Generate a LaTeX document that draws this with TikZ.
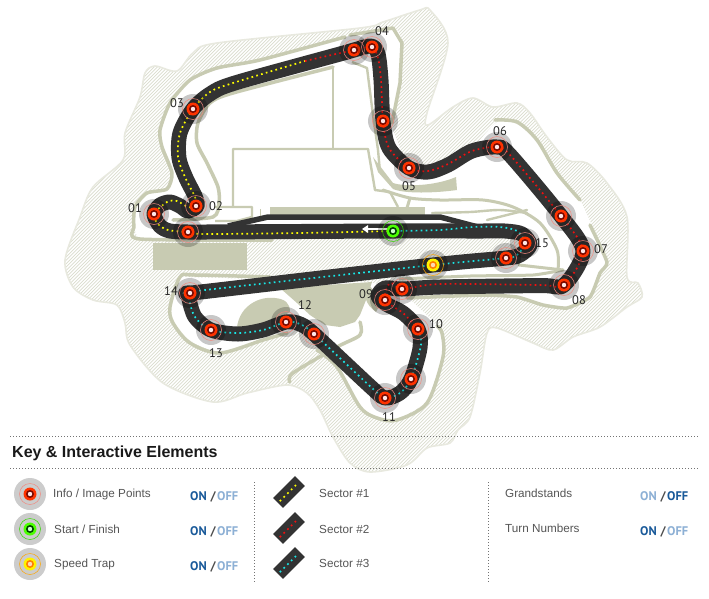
\documentclass[tikz,border=0pt]{standalone}
\usepackage{fontspec}
\setmainfont{Liberation Sans}
\newfontfamily\din{PT Sans}
\usetikzlibrary{arrows.meta}
\definecolor{olive}{HTML}{C8CBB2}
\definecolor{hatchc}{HTML}{DADCCD}
\definecolor{edgec}{HTML}{E8E9DF}
\definecolor{trk}{HTML}{333333}
\definecolor{sy}{HTML}{FFFF00}
\definecolor{sr}{HTML}{F01010}
\definecolor{sc}{HTML}{19E6E6}
\definecolor{bluedark}{HTML}{1A5A9A}
\definecolor{bluelight}{HTML}{8DB0D5}
\definecolor{txt}{HTML}{555555}
\definecolor{ring}{HTML}{F08A80}
\definecolor{band}{HTML}{FF3300}
\definecolor{inner}{HTML}{7A0A00}
\tikzset{
 oline/.style={draw=olive,line width=3.5pt,line join=round,line cap=round},
 othin/.style={draw=olive,line width=2.4pt,line join=round},
 ofill/.style={fill=olive,draw=none},
 secdots/.style={line width=1.7pt,dash pattern=on 1.7pt off 3.3pt},
 halo/.style={circle,fill=black,fill opacity=.22,draw=none,minimum size=#1,inner sep=0pt},
 disc/.style={circle,fill=#1,draw=none,inner sep=0pt},
 turn/.style={font=\din\fontsize{12.5}{14}\selectfont,text=black!85,inner sep=0pt},
 lab/.style={font=\fontsize{11.7}{14}\selectfont,text=txt,anchor=west,inner sep=0pt},
 tog/.style={font=\din\bfseries\fontsize{12.5}{14}\selectfont,inner sep=0pt,anchor=west},
 rule/.style={draw=black!55,line width=.7pt,dash pattern=on 1pt off 2pt},
}
\newcommand\mk[7]{%
 \node[halo=#3] (#1) at (#2) {};
 \node[circle,draw=#4,line width=.5pt,minimum size=21pt,inner sep=0pt] at (#2) {};
 \node[disc=#5,minimum size=13pt] at (#2) {};
 \node[disc=#6,minimum size=8pt] at (#2) {};
 \node[disc=#7,minimum size=4.4pt] at (#2) {};
}
\newcommand\ipt[2]{\mk{#1}{#2}{30pt}{ring}{band}{inner}{white!90!red}}
\newcommand\togg[5]{%
 \node[tog,text=#4] at (#2,#1) {ON};
 \node[tog,text=black!70] at (#2+20.5,#1) {/};
 \node[tog,text=#5] at (#2+27,#1) {OFF};
}
\begin{document}
\begin{tikzpicture}[x=1pt,y=-1pt]
\path[use as bounding box,fill=white] (0,0) rectangle (709,598);
\begin{scope}
\clip plot[smooth cycle,tension=.5] coordinates {(360,28) (217,43) (193,53) (177,71) (155,66) (145,73) (140,97) (125,133) (123,160) (93,187) (80,217) (65,260) (73,287) (93,300) (117,305) (125,323) (130,345) (163,383) (213,402) (247,393) (287,385) (307,393) (320,410) (333,437) (350,463) (370,472) (407,465) (427,448) (450,443) (458,430) (470,417) (480,373) (487,333) (497,328) (533,343) (553,350) (573,337) (600,327) (627,307) (642,297) (638,283) (627,277) (627,217) (607,183) (587,163) (567,160) (547,137) (530,113) (517,103) (493,107) (473,98) (453,107) (428,125) (427,113) (448,43) (430,10) (420,10) (383,22)};
\foreach \k in {-600,-596.6,...,720} {\draw[hatchc,line width=.7pt] (\k,600) -- (\k+600,0);}
\end{scope}
\draw[edgec,line width=1.6pt] plot[smooth cycle,tension=.5] coordinates {(360,28) (217,43) (193,53) (177,71) (155,66) (145,73) (140,97) (125,133) (123,160) (93,187) (80,217) (65,260) (73,287) (93,300) (117,305) (125,323) (130,345) (163,383) (213,402) (247,393) (287,385) (307,393) (320,410) (333,437) (350,463) (370,472) (407,465) (427,448) (450,443) (458,430) (470,417) (480,373) (487,333) (497,328) (533,343) (553,350) (573,337) (600,327) (627,307) (642,297) (638,283) (627,277) (627,217) (607,183) (587,163) (567,160) (547,137) (530,113) (517,103) (493,107) (473,98) (453,107) (428,125) (427,113) (448,43) (430,10) (420,10) (383,22)};
% white infield
\fill[white] plot[smooth,tension=.4] coordinates {(138,238) (134,227) (135,207) (147,193) (167,188) (172,173) (162,147) (160,130) (170,103) (190,80) (217,68) (260,60) (345,37) (393,28) (402,43) (400,83) (392,123) (397,140) (408,165) (440,168) (470,150) (497,122) (517,122) (537,140) (557,173) (580,200) (607,262) (600,273) (590,297) (567,308) (543,305) (517,297) (483,295) (410,298) (400,284) (433,265) (506,258) (528,245) (505,231) (393,231) (215,238) (138,238)};
\fill[white] (180,277) -- (170,307) .. controls (170,330) and (190,345) .. (220,353) -- (263,340) -- (295,328) -- (325,350) -- (337,367) -- (360,407) -- (377,418) -- (397,420) -- (427,403) -- (443,357) -- (442,333) -- (430,318) -- (400,290) -- (370,282) -- (180,277) -- cycle;
% filled buildings
\fill[ofill] (153,243) rectangle (247,270);
\fill[ofill] (270,207) rectangle (425,215);
\fill[ofill] (280,288) -- (372,282) -- (366,300) -- (360,315) -- (355,322) -- (340,327) -- (325,325) -- (310,315) -- (297,303) -- cycle;
\fill[ofill] (237,327) .. controls (240,305) and (260,296) .. (275,298) .. controls (285,299) and (290,303) .. (290,312) -- (265,326) -- cycle;
\fill[ofill] (373,157) -- (393,183) .. controls (405,187) and (435,186) .. (456,177) -- (457,190) .. controls (435,193) and (405,194) .. (393,189) -- (378,172) -- cycle;
\fill[ofill] (368,284) .. controls (362,295) and (366,305) .. (376,312) -- (382,300) -- cycle;
% lines
\draw[oline] plot[smooth,tension=.4] coordinates {(272,240) (140,239) (134,227) (135,207) (147,193) (167,189) (172,173) (162,147) (160,130) (170,103) (190,80) (217,68) (260,60) (345,37)};
\draw[oline] (350,35) -- (393,28) -- (402,43) -- (400,83) -- (392,123);
\draw[oline] plot[smooth,tension=.45] coordinates {(333,67) (233,93) (210,103) (198,123) (197,143) (207,163) (218,187) (219,203) (213,217) (173,220)};
\draw[oline] plot[smooth,tension=.5] coordinates {(495,120) (517,122) (537,140) (557,173) (580,200)};
\draw[oline] plot[smooth,tension=.3] coordinates {(590,225) (607,262) (600,273) (590,297) (567,308) (543,305) (517,297) (483,295) (407,298)};
\draw[oline] plot[smooth,tension=.5] coordinates {(270,277) (195,275) (180,277) (170,307) (173,323) (190,343) (220,353) (263,340) (287,333)};
\draw[oline] plot[smooth,tension=.5] coordinates {(317,350) (337,367) (360,407) (377,418) (397,420) (427,403) (443,357) (442,333) (437,326)};
\draw[oline] plot[smooth,tension=.5] coordinates {(290,382) (293,373) (337,347) (360,335) (360,322)};
\draw[othin] (333,67) -- (333,149);
\draw[othin] (233,207) -- (233,149) -- (368,149) -- (375,190) -- (390,192) -- (398,207);
\draw[othin] (352,62) -- (367,68) -- (373,115) -- (378,150) -- (380,172);
\draw[oline,line width=3pt] (410,198) -- (407,208);
\draw[oline,line width=3pt] plot[smooth,tension=.5] coordinates {(383,190) (410,198) (440,200) (483,200) (513,207) (540,223) (557,250) (558,270)};
\draw[oline,line width=2.4pt] plot[smooth,tension=.5] coordinates {(432,213) (470,212) (500,210) (527,213)};
\draw[oline,line width=2.4pt] (487,220) -- (527,210);
\draw[oline,line width=3pt] plot[smooth,tension=.3] coordinates {(400,279) (470,276) (533,275) (563,270)};
\draw[oline,line width=3pt] (519,265) -- (563,270);
\draw[othin] (215,207) -- (252,207) -- (252,217) -- (237,221) -- (215,221);
\fill[ofill] (260,209) rectangle (261,216);
% pit lane and track
\draw[trk,line width=5.5pt,line join=round] (228,226) -- (268,217) -- (440,217) -- (478,227);
\coordinate (c00) at (393,231);
\coordinate (c01) at (154,214);
\coordinate (c02) at (196,206);
\coordinate (c03) at (193,109);
\coordinate (c04a) at (354,50);
\coordinate (c04) at (372,47);
\coordinate (c04b) at (383,121);
\coordinate (c05) at (409,168);
\coordinate (c06) at (497,147);
\coordinate (c06b) at (561,216);
\coordinate (c07) at (583,251);
\coordinate (c08) at (564,285);
\coordinate (c09a) at (402,289);
\coordinate (c09) at (385,300);
\coordinate (c10) at (418,329);
\coordinate (c10b) at (411,379);
\coordinate (c11) at (385,398);
\coordinate (c12b) at (314,334);
\coordinate (c12) at (286,322);
\coordinate (c13) at (211,330);
\coordinate (c14) at (190,293);
\coordinate (cst) at (433,265);
\coordinate (c15a) at (506,258);
\coordinate (c15) at (525,243);
\coordinate (c16) at (188,232);
\draw[trk,line width=15pt,line join=round] plot[smooth cycle,tension=.5] coordinates {(c00) (300,231.5) (205,232) (c16) (170,231) (160,226) (c01) (160,205) (170,202) (180,206) (188,211) (197,206) (195,196) (186,178) (179,158) (180,133) (c03) (210,94) (235,83) (340,54) (c04a) (371,46) (378,54) (381,80) (c04b) (389,148) (c05) (428,172) (448,165) (472,151) (c06) (510,155) (c06b) (c07) (c08) (540,285.5) (440,287) (c09a) (385,288) (378,296) (386,304) (403,313) (c10) (420,348) (c10b) (400,393) (c11) (372,388) (c12b) (300,324) (c12) (263,330) (238,334) (c13) (195,317) (189,299) (c14) (205,291.5) (cst) (c15a) (520,255) (530,245) (522,234) (505,231) (480,231)};
% sector dots
\draw[sc,secdots] plot[smooth,tension=.5] coordinates {(c10) (421,345) (c10b) (400,393) (c11) (372,388) (c12b) (300,324) (c12) (263,330) (238,333) (c13) (195,317) (189,299) (c14) (205,290) (cst) (c15a) (517,255) (c15) (517,231) (500,227) (473,227) (440,230) (c00)};
\draw[sy,secdots] plot[smooth,tension=.5] coordinates {(c00) (300,233) (205,234) (c16) (168,230) (158,224) (c01) (167,202) (177,201) (188,207) (c02) (195,197) (185,177) (178,157) (180,133) (c03) (210,92) (233,83) (305,61)};
\draw[sr,secdots] plot[smooth,tension=.5] coordinates {(305,61) (c04a) (c04) (378,58) (381,80) (c04b) (389,148) (c05) (428,171) (448,164) (472,151) (c06) (510,155) (c06b) (c07) (c08) (540,285) (440,284) (c09a) (390,283) (c09) (403,313) (c10)};
\draw[white,line width=2.8pt,-{Triangle[length=6pt,width=7.5pt]}] (387,229) -- (362,229);
% markers
\ipt{m01}{c01}\ipt{m02}{c02}\ipt{m03}{c03}\ipt{m04a}{c04a}\ipt{m04}{c04}\ipt{m04b}{c04b}
\ipt{m05}{c05}\ipt{m06}{c06}\ipt{m06b}{c06b}\ipt{m07}{c07}\ipt{m08}{c08}\ipt{m09a}{c09a}
\ipt{m09}{c09}\ipt{m10}{c10}\ipt{m10b}{c10b}\ipt{m11}{c11}\ipt{m12b}{c12b}\ipt{m12}{c12}
\ipt{m13}{c13}\ipt{m14}{c14}\ipt{m15a}{c15a}\ipt{m15}{c15}\ipt{m16}{c16}
\mk{mstart}{c00}{30pt}{green!80!black!80!yellow}{green!70!yellow}{green!25!black}{white!80!green}
\mk{mspeed}{cst}{30pt}{orange!70!yellow}{yellow}{orange}{white!70!orange}
% turn numbers
\node[turn] (t01) at (135,208) {01};
\node[turn] (t02) at (216,206) {02};
\node[turn] (t03) at (177,103) {03};
\node[turn] (t04) at (382,31) {04};
\node[turn] (t05) at (409,186) {05};
\node[turn] (t06) at (500,131) {06};
\node[turn] (t07) at (601,249) {07};
\node[turn] (t08) at (579,300) {08};
\node[turn] (t09) at (366,294) {09};
\node[turn] (t10) at (436,324) {10};
\node[turn] (t11) at (389,417) {11};
\node[turn] (t12) at (305,305) {12};
\node[turn] (t13) at (216,353) {13};
\node[turn] (t14) at (171,291) {14};
\node[turn] (t15) at (542,243) {15};
% legend
\draw[rule] (10,436) -- (698,436);
\draw[rule] (10,468) -- (698,468);
\draw[rule] (254,482) -- (254,582);
\draw[rule] (488,482) -- (488,582);
\node[anchor=west,inner sep=0pt,font=\bfseries\fontsize{16}{18}\selectfont,text=black!90] (title) at (12,453) {Key \& Interactive Elements};
\fill[black!20] (30,494) circle (16);
\fill[black!20] (30,529) circle (16);
\fill[black!20] (30,564) circle (16);
\node[circle,draw=ring,line width=.5pt,minimum size=21pt,inner sep=0pt] (k1) at (30,494) {};
\node[disc=band,minimum size=13pt] at (30,494) {};
\node[disc=inner,minimum size=8pt] at (30,494) {};
\node[disc=white!90!red,minimum size=4.4pt] at (30,494) {};
\node[circle,draw=green!80!black!80!yellow,line width=.5pt,minimum size=21pt,inner sep=0pt] (k2) at (30,529) {};
\node[disc=green!70!yellow,minimum size=13pt] at (30,529) {};
\node[disc=green!25!black,minimum size=8pt] at (30,529) {};
\node[disc=white!80!green,minimum size=4.4pt] at (30,529) {};
\node[circle,draw=orange!70!yellow,line width=.5pt,minimum size=21pt,inner sep=0pt] (k3) at (30,564) {};
\node[disc=yellow,minimum size=13pt] at (30,564) {};
\node[disc=orange,minimum size=8pt] at (30,564) {};
\node[disc=white!70!orange,minimum size=4.4pt] at (30,564) {};
\node[lab] (l1) at (53,494.5) {Info / Image Points};
\node[lab] (l2) at (54,529.5) {Start / Finish};
\node[lab] (l3) at (54,564.5) {Speed Trap};
\togg{496.5}{190}{}{bluedark}{bluelight}
\togg{531.5}{190}{}{bluedark}{bluelight}
\togg{566.5}{190}{}{bluedark}{bluelight}
\togg{496.5}{640}{}{bluelight}{bluedark}
\togg{531.5}{640}{}{bluedark}{bluelight}
% sector icons
\foreach \yy/\cc in {492/sy,528/sr,563/sc} {
 \begin{scope}[shift={(289,\yy)},rotate=45]
 \fill[trk] (-15.5,-7) rectangle (15.5,7);
 \draw[\cc,line width=1.7pt,dash pattern=on 1.7pt off 3.6pt] (-13,0) -- (13,0);
 \end{scope}
}
\node[lab] (s1) at (319,493.5) {Sector \#1};
\node[lab] (s2) at (319,529) {Sector \#2};
\node[lab] (s3) at (319,563.5) {Sector \#3};
\node[lab] (g1) at (505,493.5) {Grandstands};
\node[lab] (g2) at (505,528.5) {Turn Numbers};
\end{tikzpicture}
\end{document}
